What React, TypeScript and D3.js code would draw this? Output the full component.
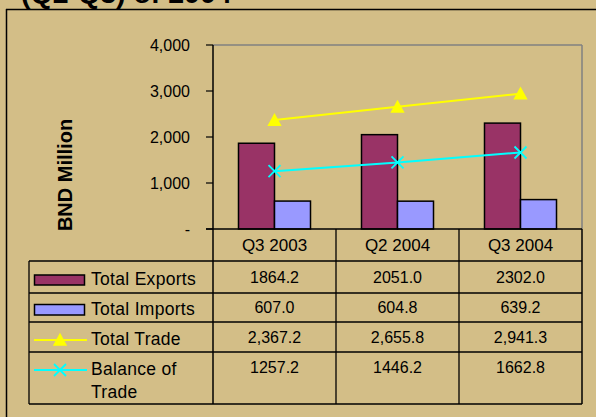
import React from "react";
import * as d3 from "d3";

const categories = ["Q3 2003", "Q2 2004", "Q3 2004"];
const totalExports = [1864.2, 2051.0, 2302.0];
const totalImports = [607.0, 604.8, 639.2];
const totalTrade = [2367.2, 2655.8, 2941.3];
const balanceOfTrade = [1257.2, 1446.2, 1662.8];
const exportsText = ["1864.2", "2051.0", "2302.0"];
const importsText = ["607.0", "604.8", "639.2"];
const tradeText = ["2,367.2", "2,655.8", "2,941.3"];
const balanceText = ["1257.2", "1446.2", "1662.8"];
const yTicks = [0, 1000, 2000, 3000, 4000];
const yTickLabels = ["-", "1,000", "2,000", "3,000", "4,000"];

const W = 596;
const H = 417;
const BG = "#D3BE87";
const FONT = "Arial, 'Liberation Sans', sans-serif";

export default function App() {
  const left = 213;
  const right = 582;
  const top = 45;
  const base = 229;
  const x = d3.scaleBand<string>().domain(categories).range([left, right]).padding(0);
  const inner = d3
    .scaleBand<string>()
    .domain(["exp", "imp"])
    .range([0, x.bandwidth()])
    .paddingInner(0)
    .paddingOuter(0.708);
  const y = d3.scaleLinear().domain([0, 4000]).range([base, top]);
  const cx = (c: string) => (x(c) as number) + x.bandwidth() / 2;

  const lineGen = d3
    .line<number>()
    .x((_, i) => cx(categories[i]))
    .y((d) => y(d));

  const rowTops = [261, 293, 322, 352];
  const tableBottom = 404;
  const tableLeft = 29;
  const valueBaselines = [283, 313, 343, 373];
  const valueRows = [exportsText, importsText, tradeText, balanceText];

  const tri = (px: number, py: number, s: number) =>
    `M${px},${py - s * 0.55}L${px + s * 0.55},${py + s * 0.45}L${px - s * 0.55},${py + s * 0.45}Z`;
  const cross = (px: number, py: number, s: number) =>
    `M${px - s},${py - s}L${px + s},${py + s}M${px - s},${py + s}L${px + s},${py - s}`;

  return (
    <svg
      width={W}
      height={H}
      style={{ position: "absolute", left: 0, top: 0, display: "block" }}
      fontFamily={FONT}
    >
      <rect x={0} y={0} width={W} height={H} fill={BG} />
      <text x={21} y={3} fontSize={28.5} fontWeight="bold" fill="#000">
        (Q2-Q3) of 2004
      </text>
      {/* outer frame */}
      <line x1={6} x2={W} y1={9.5} y2={9.5} stroke="#000" strokeWidth={1.5} />
      <line x1={6.5} x2={6.5} y1={9} y2={H} stroke="#000" strokeWidth={1.5} />

      {/* plot border */}
      <line x1={left} x2={right} y1={top} y2={top} stroke="#808080" strokeWidth={1.5} />
      <line x1={right} x2={right} y1={top} y2={base} stroke="#808080" strokeWidth={1.5} />

      {/* y axis */}
      {yTicks.map((t, i) => (
        <g key={t}>
          <line x1={206} x2={left} y1={y(t)} y2={y(t)} stroke="#000" strokeWidth={1.2} />
          <text x={190} y={y(t) + 5.5} fontSize={16} textAnchor="end" fill="#000">
            {yTickLabels[i]}
          </text>
        </g>
      ))}
      <text
        transform={`translate(72,175) rotate(-90)`}
        fontSize={20}
        fontWeight="bold"
        textAnchor="middle"
        fill="#000"
      >
        BND Million
      </text>

      {/* bars */}
      {categories.map((c, i) => (
        <g key={c}>
          <rect
            x={(x(c) as number) + (inner("exp") as number)}
            y={y(totalExports[i])}
            width={inner.bandwidth()}
            height={base - y(totalExports[i])}
            fill="#993366"
            stroke="#000"
            strokeWidth={1.5}
          />
          <rect
            x={(x(c) as number) + (inner("imp") as number)}
            y={y(totalImports[i])}
            width={inner.bandwidth()}
            height={base - y(totalImports[i])}
            fill="#9999FF"
            stroke="#000"
            strokeWidth={1.5}
          />
        </g>
      ))}

      {/* lines */}
      <path d={lineGen(totalTrade) || ""} fill="none" stroke="#FFFF00" strokeWidth={2} />
      {totalTrade.map((v, i) => (
        <path key={i} d={tri(cx(categories[i]), y(v), 13)} fill="#FFFF00" />
      ))}
      <path d={lineGen(balanceOfTrade) || ""} fill="none" stroke="#00FFFF" strokeWidth={2} />
      {balanceOfTrade.map((v, i) => (
        <path key={i} d={cross(cx(categories[i]), y(v), 6)} stroke="#00FFFF" strokeWidth={1.8} fill="none" />
      ))}

      {/* axis lines & table */}
      <line x1={206} x2={right} y1={base} y2={base} stroke="#000" strokeWidth={1.5} />
      <line x1={left} x2={left} y1={top} y2={tableBottom} stroke="#000" strokeWidth={1.5} />
      {categories.map((c, i) => (
        <g key={c}>
          {i > 0 && (
            <line x1={x(c)} x2={x(c)} y1={base} y2={tableBottom} stroke="#000" strokeWidth={1.3} />
          )}
          <text x={cx(c)} y={251} fontSize={17} textAnchor="middle" fill="#000">
            {c}
          </text>
        </g>
      ))}
      <line x1={right} x2={right} y1={base} y2={tableBottom} stroke="#000" strokeWidth={1.5} />
      {rowTops.map((r) => (
        <line key={r} x1={tableLeft} x2={right} y1={r} y2={r} stroke="#000" strokeWidth={1.3} />
      ))}
      <line x1={tableLeft} x2={right} y1={tableBottom} y2={tableBottom} stroke="#000" strokeWidth={1.5} />
      <line x1={tableLeft} x2={tableLeft} y1={rowTops[0]} y2={tableBottom} stroke="#000" strokeWidth={1.3} />

      {valueRows.map((row, r) =>
        row.map((t, i) => (
          <text
            key={`${r}-${i}`}
            x={cx(categories[i])}
            y={valueBaselines[r]}
            fontSize={16}
            textAnchor="middle"
            fill="#000"
          >
            {t}
          </text>
        ))
      )}

      {/* legend keys */}
      <rect x={34.5} y={275} width={50} height={10} fill="#993366" stroke="#000" strokeWidth={1.5} />
      <rect x={34.5} y={304.5} width={50} height={10.5} fill="#9999FF" stroke="#000" strokeWidth={1.5} />
      <line x1={34} x2={87} y1={340} y2={340} stroke="#FFFF00" strokeWidth={2} />
      <path d={tri(60, 340, 13)} fill="#FFFF00" />
      <line x1={34} x2={87} y1={370} y2={370} stroke="#00FFFF" strokeWidth={2} />
      <path d={cross(60, 370, 6)} stroke="#00FFFF" strokeWidth={1.8} fill="none" />

      <g fontSize={17.5} fill="#000" letterSpacing={0.3}>
        <text x={91} y={285}>Total Exports</text>
        <text x={91} y={315}>Total Imports</text>
        <text x={91} y={345}>Total Trade</text>
        <text x={91} y={375}>Balance of</text>
        <text x={91} y={398}>Trade</text>
      </g>
    </svg>
  );
}
